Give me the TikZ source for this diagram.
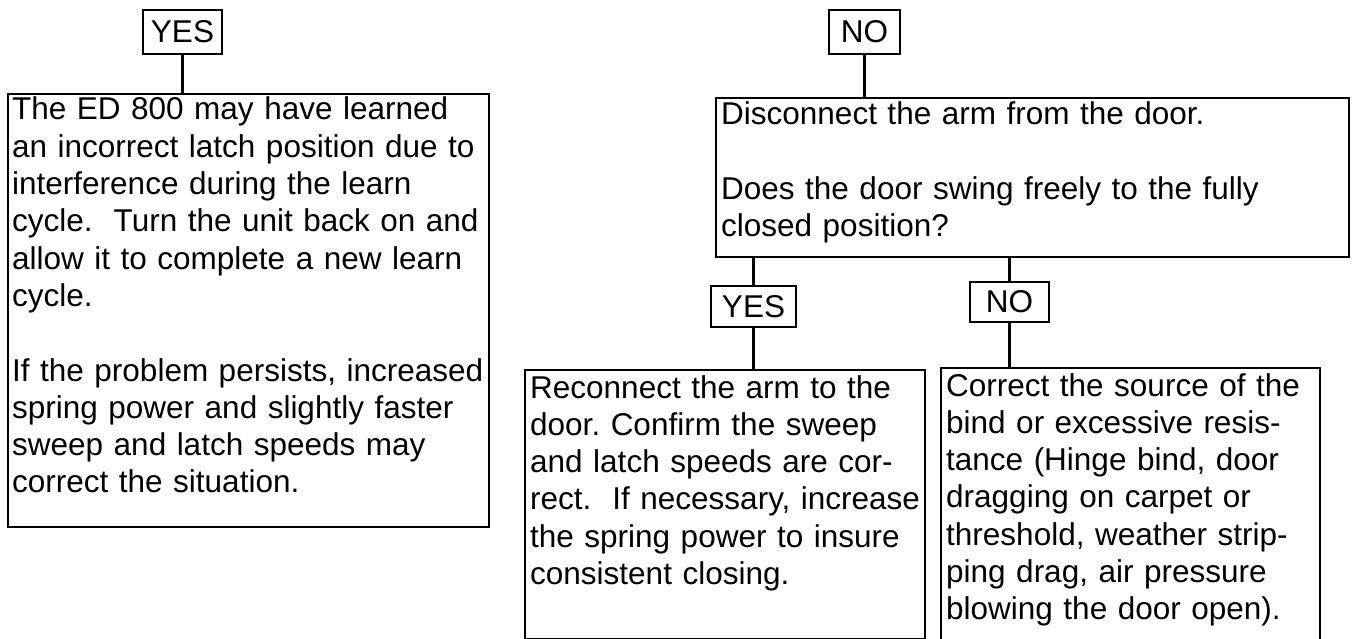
\documentclass[tikz,border=0pt]{standalone}
\usepackage{fontspec}
\setmainfont{Liberation Sans}
\frenchspacing
\begin{document}
\begin{tikzpicture}[x=1pt,y=-1pt,
  box/.style={draw, line width=2.2pt, rectangle, inner sep=0pt, anchor=north west},
  lbl/.style={draw, line width=2.2pt, rectangle, inner sep=0pt, font=\fontsize{31.5}{37.5}\selectfont},
  txt/.style={anchor=base west, inner sep=0pt, align=left, text width=700pt, font=\fontsize{31.5}{37.3}\selectfont},
  conn/.style={line width=2.2pt}]
\useasboundingbox (0,0) rectangle (1354,639);

% label boxes
\node[lbl, minimum width=79pt, minimum height=44pt] (yesA) at (182.5,32) {YES};
\node[lbl, minimum width=71pt, minimum height=44pt] (noA) at (864.5,32) {NO};
\node[lbl, minimum width=85pt, minimum height=41pt] (yesB) at (753.5,306.5) {YES};
\node[lbl, minimum width=79pt, minimum height=40pt] (noB) at (1009.5,302) {NO};

% text boxes
\node[box, minimum width=481pt, minimum height=433pt] (L) at (7,93) {};
\node[box, minimum width=633pt, minimum height=159pt] (R) at (715,97) {};
\node[box, minimum width=400pt, minimum height=269pt] (LL) at (524,369) {};
\node[box, minimum width=379pt, minimum height=290pt] (LR) at (940,367) {};

% texts
\node[txt] (Lt) at (12,120) {The ED 800 may have learned\\
an incorrect latch position due to\\
interference during the learn\\
cycle.\ \ Turn the unit back on and\\
allow it to complete a new learn\\
cycle.\\[37.3pt]
If the problem persists, increased\\
spring power and slightly faster\\
sweep and latch speeds may\\
correct the situation.};

\node[txt] (Rt) at (721,125) {Disconnect the arm from the door.\\[37.3pt]
Does the door swing freely to the fully\\
closed position?};

\node[txt] (LLt) at (530,398) {Reconnect the arm to the\\
door. Confirm the sweep\\
and latch speeds are cor-\\
rect.\ \ If necessary, increase\\
the spring power to insure\\
consistent closing.};

\node[txt] (LRt) at (946,396) {Correct the source of the\\
bind or excessive resis-\\
tance (Hinge bind, door\\
dragging on carpet or\\
threshold, weather strip-\\
ping drag, air pressure\\
blowing the door open).};

% connectors
\draw[conn] (yesA) -- (yesA |- L.north);
\draw[conn] (noA) -- (noA |- R.north);
\draw[conn] (yesB |- R.south) -- (yesB);
\draw[conn] (yesB) -- (yesB |- LL.north);
\draw[conn] (noB |- R.south) -- (noB);
\draw[conn] (noB) -- (noB |- LR.north);
\end{tikzpicture}
\end{document}
